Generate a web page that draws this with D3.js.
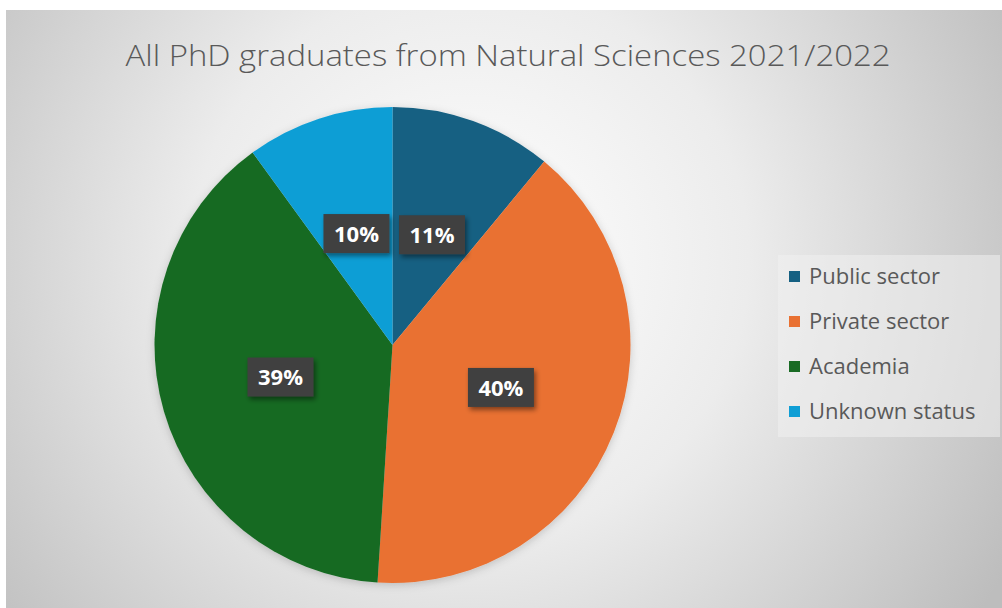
<!DOCTYPE html>
<html>
<head>
<meta charset="utf-8">
<script src="https://cdn.jsdelivr.net/npm/d3@7"></script>
<style>
  html, body { margin: 0; padding: 0; background: #fff; }
  svg { display: block; }
</style>
</head>
<body>
<div id="chart"></div>
<script>
// chart values
const categories = ["Public sector", "Private sector", "Academia", "Unknown status"];
const shares = [11, 40, 39, 10];
const colors = ["#156082", "#E97132", "#196B24", "#0F9ED5"];
const title = "All PhD graduates from Natural Sciences 2021/2022";

const W = 1002, H = 608;

const svg = d3.select("#chart").append("svg")
    .attr("width", W)
    .attr("height", H);

const defs = svg.append("defs");

// background gradient
const bg = defs.append("radialGradient")
    .attr("id", "bg")
    .attr("gradientUnits", "userSpaceOnUse")
    .attr("cx", 470).attr("cy", 260).attr("r", 620);
bg.append("stop").attr("offset", "0%").attr("stop-color", "#ffffff");
bg.append("stop").attr("offset", "45%").attr("stop-color", "#ececec");
bg.append("stop").attr("offset", "100%").attr("stop-color", "#bdbdbd");

// shadow for the label boxes
const sh = defs.append("filter").attr("id", "shadow")
    .attr("x", "-30%").attr("y", "-30%").attr("width", "160%").attr("height", "160%");
sh.append("feDropShadow")
    .attr("dx", 2).attr("dy", 3).attr("stdDeviation", 2.5)
    .attr("flood-color", "#000").attr("flood-opacity", 0.45);

const pieShadow = defs.append("filter").attr("id", "pieShadow")
    .attr("x", "-20%").attr("y", "-20%").attr("width", "140%").attr("height", "140%");
pieShadow.append("feDropShadow")
    .attr("dx", 0).attr("dy", 2).attr("stdDeviation", 4)
    .attr("flood-color", "#000").attr("flood-opacity", 0.18);

svg.append("rect")
    .attr("x", 6).attr("y", 10)
    .attr("width", W - 6).attr("height", H - 10)
    .attr("fill", "url(#bg)");

// title
svg.append("text")
    .attr("x", 508).attr("y", 66)
    .attr("text-anchor", "middle")
    .attr("font-family", "'Open Sans', sans-serif")
    .attr("font-weight", 300)
    .attr("font-size", 30)
    .attr("fill", "#595959")
    .attr("textLength", 765)
    .attr("lengthAdjust", "spacingAndGlyphs")
    .text(title);

// pie
const cx = 392.5, cy = 345, R = 238;
const pie = d3.pie().sort(null).value(d => d);
const arc = d3.arc().innerRadius(0).outerRadius(R);
const labelArc = d3.arc().innerRadius(R * 0.49).outerRadius(R * 0.49);

const g = svg.append("g").attr("transform", `translate(${cx},${cy})`);

g.append("g").attr("filter", "url(#pieShadow)")
  .selectAll("path")
  .data(pie(shares))
  .join("path")
    .attr("d", arc)
    .attr("fill", (d, i) => colors[i]);

const fmt = d3.format(".0%");
const total = d3.sum(shares);

const labels = g.selectAll("g.lbl")
  .data(pie(shares))
  .join("g")
    .attr("class", "lbl")
    .attr("transform", d => `translate(${labelArc.centroid(d)})`);

labels.append("rect")
    .attr("x", -33).attr("y", -20)
    .attr("width", 66).attr("height", 39)
    .attr("fill", "#3f3f3f")
    .attr("filter", "url(#shadow)");

labels.append("text")
    .attr("text-anchor", "middle")
    .attr("dy", "0.36em")
    .attr("font-family", "'Open Sans', sans-serif")
    .attr("font-weight", "bold")
    .attr("font-size", 22)
    .attr("fill", "#ffffff")
    .text(d => fmt(d.data / total));

// legend
const legend = svg.append("g").attr("transform", "translate(778,255)");
legend.append("rect")
    .attr("width", 222).attr("height", 182)
    .attr("fill", "#f0f0f0")
    .attr("fill-opacity", 0.55);

const ly = d3.scalePoint().domain(categories).range([21, 156]);

const item = legend.selectAll("g.item")
  .data(categories)
  .join("g")
    .attr("class", "item")
    .attr("transform", d => `translate(11,${ly(d)})`);

item.append("rect")
    .attr("x", 0).attr("y", -5)
    .attr("width", 11).attr("height", 11)
    .attr("fill", (d, i) => colors[i]);

item.append("text")
    .attr("x", 20)
    .attr("dy", "0.35em")
    .attr("font-family", "'Open Sans', sans-serif")
    .attr("font-size", 22)
    .attr("fill", "#595959")
    .text(d => d);
</script>
</body>
</html>
